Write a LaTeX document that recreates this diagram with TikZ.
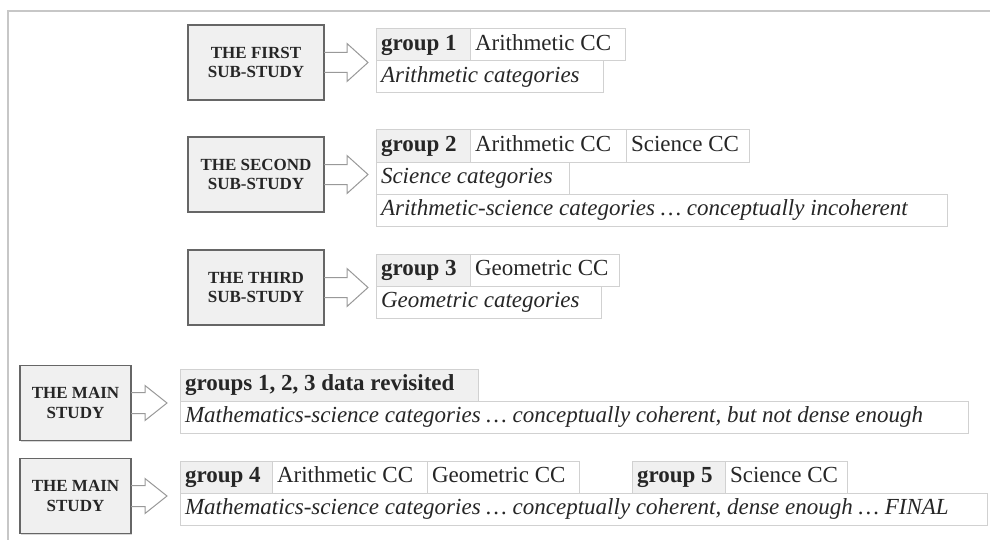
\documentclass[tikz,border=0pt]{standalone}
\usepackage{fontspec}
\setmainfont{Liberation Serif}
\usetikzlibrary{shadows}

\tikzset{
  studybox/.style={draw=black!60, fill=black!6, line width=0.6pt, outer sep=0pt,
    minimum width=#1, minimum height=37.5pt, align=center, text=black!85,
    font=\fontsize{8.5}{9.6}\selectfont\bfseries,
    drop shadow={shadow xshift=0.7pt, shadow yshift=-0.7pt, fill=black!30}},
  studybox/.default=68pt,
  cell/.style={draw=black!18, line width=0.5pt, anchor=north west, outer sep=0pt,
    text width=#1, align=flush left, minimum height=16pt, inner xsep=2.5pt, inner ysep=0pt,
    text height=8.2pt, text depth=2.6pt,
    text=black!85, font=\fontsize{11.5}{12}\selectfont},
  headcell/.style={cell=#1, fill=black!6, font=\fontsize{11.5}{12}\selectfont\bfseries},
  itcell/.style={cell=#1, font=\fontsize{11.5}{12}\selectfont\itshape},
  blockarrow/.style={draw=black!40, line width=0.5pt, line join=miter},
  framerule/.style={draw=black!22, line width=1pt},
}

\begin{document}
\begin{tikzpicture}[x=0.5pt,y=-0.5pt]
  \fill[white] (0,0) rectangle (990,540);
  \useasboundingbox (0,0) rectangle (990,540);
  \draw[framerule] (8,540) -- (8,11) -- (990,11);

  % sub-studies
  \node[studybox] (first) at (256,62.5) {THE FIRST\\SUB-STUDY};
  \node[studybox] (second) at (256,174.5) {THE SECOND\\SUB-STUDY};
  \node[studybox] (third) at (256,287.5) {THE THIRD\\SUB-STUDY};

  \draw[blockarrow] ([yshift=5pt]first.east) -- ++(23,0) -- ++(0,-9) -- ++(21,19) -- ++(-21,19) -- ++(0,-9) -- ++(-23,0);
  \draw[blockarrow] ([yshift=5pt]second.east) -- ++(23,0) -- ++(0,-9) -- ++(21,19) -- ++(-21,19) -- ++(0,-9) -- ++(-23,0);
  \draw[blockarrow] ([yshift=5pt]third.east) -- ++(23,0) -- ++(0,-9) -- ++(21,19) -- ++(-21,19) -- ++(0,-9) -- ++(-23,0);

  \node[headcell=42pt] (g1) at (376,29) {group 1};
  \node[cell=72.5pt] (g1arith) at (g1.north east) {Arithmetic CC};
  \node[itcell=108.5pt] (g1cat) at (g1.south west) {Arithmetic categories};

  \node[headcell=42pt] (g2) at (376,130) {group 2};
  \node[cell=73pt] (g2arith) at (g2.north east) {Arithmetic CC};
  \node[cell=56.5pt] (g2sci) at (g2arith.north east) {Science CC};
  \node[itcell=91.5pt] (g2cat) at (g2.south west) {Science categories};
  \node[itcell=280.5pt] (g2mix) at (g2cat.south west) {Arithmetic-science categories \dots\ conceptually incoherent};

  \node[headcell=42pt] (g3) at (376,254) {group 3};
  \node[cell=69.5pt] (g3geo) at (g3.north east) {Geometric CC};
  \node[itcell=107.5pt] (g3cat) at (g3.south west) {Geometric categories};

  % main study
  \node[studybox=55.5pt] (mainA) at (75.5,403) {THE MAIN\\STUDY};
  \node[studybox=55.5pt] (mainB) at (75.5,496) {THE MAIN\\STUDY};

  \draw[blockarrow] ([yshift=5.25pt]mainA.east) -- ++(14,0) -- ++(0,-7) -- ++(22,17.5) -- ++(-22,17.5) -- ++(0,-7) -- ++(-14,0);
  \draw[blockarrow] ([yshift=5.25pt]mainB.east) -- ++(14,0) -- ++(0,-7) -- ++(22,17.5) -- ++(-22,17.5) -- ++(0,-7) -- ++(-14,0);

  \node[headcell=144pt] (rev) at (180,369) {groups 1, 2, 3 data revisited};
  \node[itcell=389pt] (revcat) at (rev.south west) {Mathematics-science categories \dots\ conceptually coherent, but not dense enough};

  \node[headcell=41pt] (g4) at (180,461) {group 4};
  \node[cell=72.5pt] (g4arith) at (g4.north east) {Arithmetic CC};
  \node[cell=71pt] (g4geo) at (g4arith.north east) {Geometric CC};
  \node[headcell=41.5pt] (g5) at (632,461) {group 5};
  \node[cell=56pt] (g5sci) at (g5.north east) {Science CC};
  \node[itcell=398.5pt] (final) at (g4.south west) {Mathematics-science categories \dots\ conceptually coherent, dense enough \dots\ FINAL};
\end{tikzpicture}
\end{document}
